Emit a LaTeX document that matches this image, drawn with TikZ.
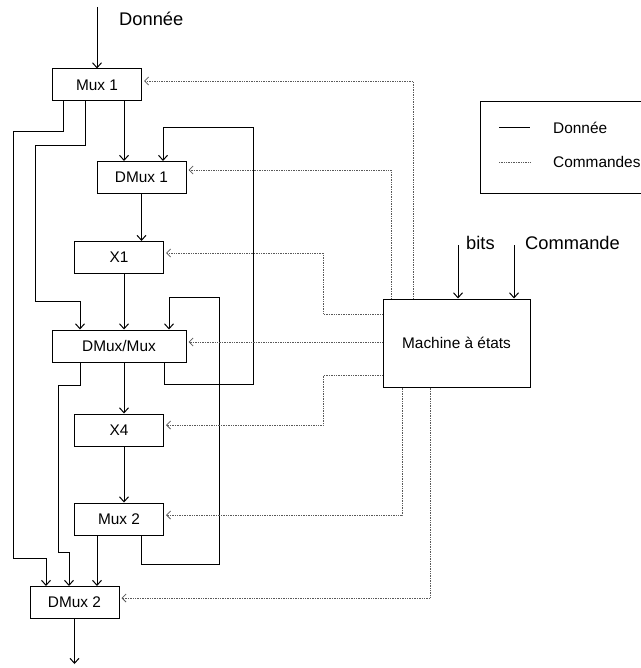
\documentclass[tikz,border=0pt]{standalone}
\usepackage{fontspec}
\setmainfont{Liberation Sans}
\usetikzlibrary{arrows.meta,positioning}
\tikzset{
  bloc/.style={draw,line width=1pt,minimum width=89pt,minimum height=32pt,inner sep=0pt,font=\fontsize{15.4}{18}\selectfont},
  trait/.style={line width=1pt},
  flux/.style={trait,-{Straight Barb[length=5pt,width=9pt]}},
  pointille/.style={line width=0.8pt,black!65,dash pattern=on 0.8pt off 0.9pt},
  ctrl/.style={pointille,-{Straight Barb[length=4pt,width=8pt]},shorten >=2pt},
  texte/.style={anchor=west,inner sep=0pt,font=\fontsize{15.4}{18}\selectfont},
  etiquette/.style={anchor=west,inner sep=0pt,font=\fontsize{18.3}{21}\selectfont}
}
\begin{document}
\begin{tikzpicture}[x=1pt,y=-1pt]
\useasboundingbox (0,0) rectangle (640,668);
\node[bloc] (mux1) at (97,85) {Mux 1};
\node[bloc] (dmux1) at (141.5,177.5) {DMux 1};
\node[bloc] (x1) at (119,257.5) {X1};
\node[bloc,minimum width=134pt] (dmuxmux) at (119,346) {DMux/Mux};
\node[bloc] (x4) at (119,430) {X4};
\node[bloc] (mux2) at (119,519) {Mux 2};
\node[bloc] (dmux2) at (74.5,602.5) {DMux 2};
\node[bloc,minimum width=147pt,minimum height=88pt] (machine) at (456.5,343) {Machine à états};

\coordinate (entree) at (97,7);
\coordinate (sortie) at (74.5,664);
\coordinate (bits) at (458,245);
\coordinate (cmd) at (514,245);
\node[etiquette] (lbldonnee) at (119,19) {Donnée};
\node[etiquette] (lblbits) at (466,243) {bits};
\node[etiquette] (lblcmd) at (525,243) {Commande};

% donnees
\draw[flux] (entree) -- (mux1);
\draw[flux] ([xshift=27pt]mux1.south) -- ([xshift=-17.5pt]dmux1.north);
\draw[flux] ([xshift=-12pt]mux1.south) -- ++(0,44) -- ++(-50,0) |- ([xshift=-39pt,yshift=28pt]dmuxmux.north) -- ([xshift=-39pt]dmuxmux.north);
\draw[flux] ([xshift=-34pt]mux1.south) -- ++(0,30) -- ++(-50,0) |- ([xshift=-28.5pt,yshift=27.5pt]dmux2.north) -- ([xshift=-28.5pt]dmux2.north);
\draw[flux] (dmux1.south) -- (dmux1.south |- x1.north);
\draw[flux] ([xshift=5pt]x1.south) -- ([xshift=5pt]dmuxmux.north);
\draw[flux] ([xshift=5pt]dmuxmux.south) -- ([xshift=5pt]x4.north);
\draw[flux] ([xshift=5pt]x4.south) -- ([xshift=5pt]mux2.north);
\draw[flux] ([xshift=-22pt]mux2.south) -- ([xshift=-22pt]mux2.south |- dmux2.north);
\draw[flux] ([xshift=22pt]mux2.south) -- ++(0,29) -- ++(78,0) |- ([xshift=50pt,yshift=32pt]dmuxmux.north) -- ([xshift=50pt]dmuxmux.north);
\draw[flux] ([xshift=45pt]dmuxmux.south) -- ++(0,22) -- ++(89,0) |- ([xshift=21.5pt,yshift=33.5pt]dmux1.north) -- ([xshift=21.5pt]dmux1.north);
\draw[flux] ([xshift=-39pt]dmuxmux.south) -- ++(0,23) -- ++(-22,0) |- ([xshift=-5.5pt,yshift=33.5pt]dmux2.north) -- ([xshift=-5.5pt]dmux2.north);
\draw[flux] (dmux2) -- (sortie);
\draw[flux] (bits) -- (bits |- machine.north);
\draw[flux] (cmd) -- (cmd |- machine.north);

% commandes
\draw[ctrl] ([xshift=-43.5pt]machine.north) |- ([yshift=4pt]mux1.east);
\draw[ctrl] ([xshift=-65.5pt]machine.north) |- ([yshift=7.5pt]dmux1.east);
\draw[ctrl] ([yshift=29pt]machine.west) -- ++(-59,0) |- ([yshift=4.5pt]x1.east);
\draw[ctrl] ([yshift=1pt]machine.west) -- ([yshift=4pt]dmuxmux.east);
\draw[ctrl] ([yshift=-32pt]machine.west) -- ++(-59,0) |- ([yshift=5pt]x4.east);
\draw[ctrl] ([xshift=-54.5pt]machine.south) |- ([yshift=4pt]mux2.east);
\draw[ctrl] ([xshift=-26.5pt]machine.south) |- ([yshift=4.5pt]dmux2.east);

% legende
\node[draw,line width=1pt,minimum width=168pt,minimum height=92pt,anchor=north west] (legende) at (480,101) {};
\draw[trait] (499,128) -- (530,128);
\draw[pointille] (499,162) -- (530,162);
\node[texte] (legdonnee) at (553,128) {Donnée};
\node[texte] (legcmd) at (553,162) {Commandes};
\end{tikzpicture}
\end{document}
